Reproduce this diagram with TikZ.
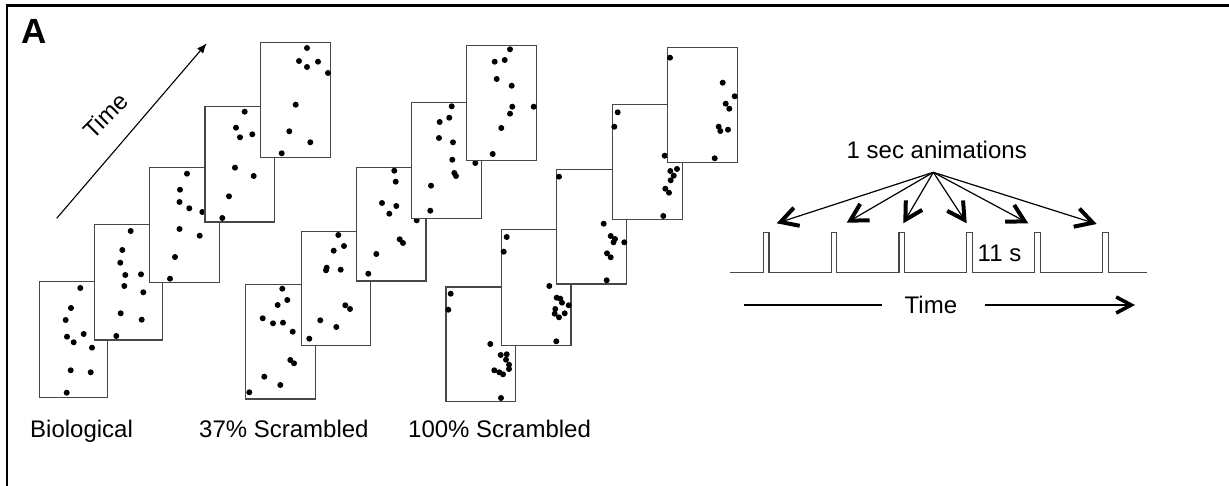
\documentclass[tikz,border=0pt]{standalone}
\usepackage{fontspec}
\setmainfont{Liberation Sans}
\usetikzlibrary{arrows.meta}
\newcommand\dotframe[5]{%
  \draw[frm] (#1,#2) rectangle (#3,#4);
  \foreach \dx/\dy in {#5} \fill (\dx,\dy) circle[radius=3pt];
}
\begin{document}
\begin{tikzpicture}[x=1pt,y=-1pt,
  frm/.style={draw=black!72, fill=white, line width=1.1pt},
  lbl/.style={inner sep=0pt, anchor=base west, font=\fontsize{24}{28}\selectfont},
  fan/.style={line width=1.2pt, -{Straight Barb[length=17pt,width=19pt,line width=4pt]}},
  pulse/.style={draw=black!72, line width=1.3pt}]
\useasboundingbox (0,0) rectangle (1229,486);
\fill[white] (0,0) rectangle (1229,486);
% outer frame
\draw[line width=2.6pt] (7,486) -- (7,5.5) -- (1229,5.5);
\node[inner sep=0pt, anchor=base west, font=\fontsize{35}{40}\selectfont\bfseries] (A) at (21,44) {A};
% time arrow
\coordinate (ta) at (56.7,218.3);
\coordinate (tb) at (206.7,43.3);
\draw[line width=1.1pt, -{Latex[length=10pt,width=8pt]}] (ta) -- (tb);
\node[inner sep=0pt, rotate=45, font=\fontsize{24}{28}\selectfont] (ttime) at (105.5,115.8) {Time};
% Biological
\dotframe{39.3}{281.7}{107.3}{397.3}{80.3/288,71/308,65.7/320,67/336.7,73.7/342.3,83.7/334,92/347.7,70.7/370.3,90.7/372.3,66.7/392.7}
\dotframe{94.7}{224.3}{162.7}{340}{130.7/231,122.3/250,120.3/262.7,125.3/275,141/274.3,124.3/286,143.3/292.3,120.7/313.3,141.7/319.7,116.3/336}
\dotframe{149.7}{167.7}{219.3}{282.3}{187/173.7,180/189.7,179.5/202,189.3/208.3,202.3/212,179.5/229,199.7/235.7,175/257,170/278.7}
\dotframe{205}{106.7}{274.7}{222}{244.7/111.7,236/127.7,240/137.3,252.3/134.3,235/167.7,253.7/176,229/196.3,222.3/218}
\dotframe{260.3}{42.7}{330.7}{157.3}{307/48,299/61,307/67,318/61.7,328/73,295.7/104.7,289.3/131.3,310.3/142.3,281.7/153.3}
% 37% scrambled
\dotframe{245.3}{284.7}{315.3}{399}{282.3/288.7,287.3/300,277.7/305,262.7/318.3,273/323.3,283/322.7,292.7/331.7,290.3/360,294/363.3,264.3/376.7,280.3/385,249.3/392.3}
\dotframe{301.3}{231.7}{370.7}{345.3}{338.3/235,344/246,333.7/250.7,326.7/267.7,326/270.3,340.7/269.7,345.3/305.3,350/309,320.3/320.3,336.3/327,309.3/338.7}
\dotframe{356.3}{167.3}{426}{281}{394.3/170.7,395.7/181.7,382/203,396.3/206,389.3/213.7,416.7/220.3,399.7/239.3,403/243,376.3/254,368.3/273.7}
\dotframe{411.5}{102.3}{481.3}{218.2}{451.7/106.3,439.7/122,449.3/117.7,439/138,453/142.3,452.3/159.7,454.3/173,456/176,431/185.7,430.3/210.7,475.3/163}
\dotframe{466.7}{45.7}{536.5}{160.5}{510/49.3,494.7/61.7,504.7/60,496.7/79,511.7/85.7,512.3/106.7,510/113.7,533.7/106.7,501.3/128,492.7/154}
% 100% scrambled
\dotframe{446}{287}{515.3}{401.7}{450.7/293.7,448.3/309.7,490.3/344,500.7/355,506.7/354.3,506/359.7,509/364.7,509/369,494.3/370.3,499.3/372.3,503/374.3,501/398}
\dotframe{501.3}{229.3}{571}{345.3}{506.7/237,503.7/251.7,549.3/286,556.7/297.7,560.3/298.7,562/302.7,568.7/305.3,555.3/309,554.7/313.7,559/317.3,564.7/313.3,556.3/341.3}
\dotframe{556.3}{169.3}{626.3}{284}{559/176.7,603.7/223.7,610.7/236,615/239,613.5/242.3,624.3/242.3,607/253.3,610.7/257.3,606.7/280.3}
\dotframe{612.3}{104.3}{682.3}{219.3}{617.7/112.3,614.3/126.7,664.7/155.7,670.3/171,677/169,673.7/175.7,670.7/180.3,665.3/188.7,669/192.7,663.3/216}
\dotframe{667.7}{47.3}{737.3}{162.3}{670/57.7,722.7/82.7,734.7/96.3,725.7/103.7,729.3/108.7,718.7/126.7,720.3/131,728/129.7,714.7/158.3}
% labels
\node[lbl] (bio) at (30,437) {Biological};
\node[lbl] (s37) at (199,437) {37\% Scrambled};
\node[lbl] (s100) at (408,437) {100\% Scrambled};
% right panel
\node[lbl] (anim) at (846.5,158.3) {1 sec animations};
\coordinate (o) at (933.3,172.3);
\coordinate (t1) at (776.7,223.3);
\coordinate (t2) at (846.7,222.7);
\coordinate (t3) at (903.3,223.3);
\coordinate (t4) at (966.7,223.3);
\coordinate (t5) at (1028.3,223.3);
\coordinate (t6) at (1096.7,224);
\foreach \t in {t1,t2,t3,t4,t5,t6} \draw[fan] (o) -- (\t);
\draw[pulse] (730,272.3)
  -- (763.3,272.3) -- (763.3,232.3) -- (769,232.3) -- (769,272.3)
  -- (831.3,272.3) -- (831.3,232.3) -- (836.8,232.3) -- (836.8,272.3)
  -- (899,272.3) -- (899,232.3) -- (904.5,232.3) -- (904.5,272.3)
  -- (966.7,272.3) -- (966.7,232.3) -- (972.2,232.3) -- (972.2,272.3)
  -- (1034.7,272.3) -- (1034.7,232.3) -- (1040.2,232.3) -- (1040.2,272.3)
  -- (1102.7,272.3) -- (1102.7,232.3) -- (1108.2,232.3) -- (1108.2,272.3)
  -- (1146.7,272.3);
\node[lbl] (eleven) at (977.5,261.7) {11 s};
\node[lbl] (btime) at (904.5,313.3) {Time};
\coordinate (l1) at (744,305);
\coordinate (l2) at (881.7,305);
\coordinate (r1) at (985,305);
\coordinate (r2) at (1135,305);
\draw[line width=1.3pt] (l1) -- (l2);
\draw[line width=1.3pt, -{Straight Barb[length=15pt,width=16pt,line width=3.6pt]}] (r1) -- (r2);
\end{tikzpicture}
\end{document}
